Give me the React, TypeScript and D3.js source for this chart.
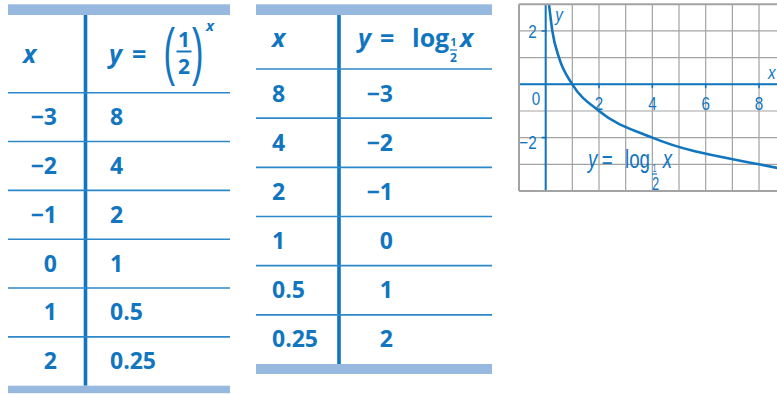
import * as d3 from 'd3';

// table 1: y = (1/2)^x
const expX = [-3, -2, -1, 0, 1, 2];
const expY = [8, 4, 2, 1, 0.5, 0.25];
// table 2: y = log_(1/2) x
const logX = [8, 4, 2, 1, 0.5, 0.25];
const logY = [-3, -2, -1, 0, 1, 2];
// curve points for the graph (table values plus the ends of the drawn curve)
const curveX = [0.125, 0.25, 0.5, 1, 2, 4, 8, 16];
const curveY = [3, 2, 1, 0, -1, -2, -3, -4];
const xTicks = [2, 4, 6, 8];
const yTicks = [2, -2];

const W = 777;
const H = 394;
const blue = '#1176bf';
const lineBlue = '#2d88ca';
const barBlue = '#97b9df';
const gridGray = '#a3a3a3';
const tableFont = '"Open Sans", "Noto Sans", sans-serif';
const graphFont = '"Liberation Sans", Arial, sans-serif';

const fmt = (v: number) => String(v).replace('-', '\u2212');

// condensed look for the graph lettering
const Narrow = ({ x, y, sx = 0.8, children, ...rest }: any) => (
  <text transform={`translate(${x},${y}) scale(${sx},1)`} {...rest}>{children}</text>
);

const Table = ({ left, right, divider, top, headTop, bottom, xs, ys, xAlign, xPos, yAlign, yPos, children }: any) => {
  const rows = d3.scaleLinear().domain([0, xs.length]).range([top, bottom]);
  return (
    <g>
      <rect x={left} y={4.3} width={right - left} height={headTop - 4.3} fill={barBlue} />
      <rect x={divider - 1.8} y={headTop} width={3.6} height={bottom - headTop} fill={blue} />
      {d3.range(xs.length).map((i) => (
        <line key={i} x1={left} x2={right} y1={rows(i)} y2={rows(i)} stroke={lineBlue} strokeWidth={1.6} />
      ))}
      <rect x={left} y={bottom} width={right - left} height={bottom > 380 ? 7.5 : 10} fill={barBlue} />
      {xs.map((v: number, i: number) => {
        const cy = (rows(i) + rows(i + 1)) / 2 + 8;
        return (
          <g key={i} fontFamily={tableFont} fontWeight={700} fontSize={23} fill={blue}>
            <text x={xPos} y={cy} textAnchor={xAlign}>{fmt(v)}</text>
            <text x={yPos} y={cy} textAnchor={yAlign}>{fmt(ys[i])}</text>
          </g>
        );
      })}
      {children}
    </g>
  );
};

const App = () => {
  const x = d3.scaleLinear().domain([-1, 10]).range([519, 519 + 11 * 26.67]);
  const y = d3.scaleLinear().domain([3, -4]).range([4.3, 191]);
  const line = d3
    .line<number>()
    .x((d) => x(d))
    .y((d, i) => y(curveY[i]))
    .curve(d3.curveMonotoneX);

  return (
    <svg width={W} height={H} style={{ position: 'absolute', left: 0, top: 0, background: '#fff' }}>
      <defs>
        <clipPath id="plot">
          <rect x={x(-1)} y={y(3)} width={x(10) - x(-1)} height={y(-4) - y(3)} />
        </clipPath>
      </defs>

      {/* table 1 */}
      <Table left={8} right={230} divider={85.5} top={92.7} headTop={15} bottom={385.7}
        xs={expX} ys={expY} xAlign="end" xPos={57} yAlign="start" yPos={110}>
        <g fontFamily={tableFont} fontWeight={700} fill={blue}>
          <text x={23} y={63} fontSize={25} fontStyle="italic">x</text>
          <text x={109} y={63} fontSize={25} fontStyle="italic">y</text>
          <text x={132} y={63} fontSize={25}>=</text>
          <text transform="translate(163.6,73) scale(1.15,2.1)" fontFamily="Liberation Sans" fontWeight={400} fontSize={30}>(</text>
          <text x={184} y={47} fontSize={21} textAnchor="middle">1</text>
          <line x1={176.5} x2={191.5} y1={51.5} y2={51.5} stroke={blue} strokeWidth={2} />
          <text x={184} y={74} fontSize={21} textAnchor="middle">2</text>
          <text transform="translate(192,73) scale(1.15,2.1)" fontFamily="Liberation Sans" fontWeight={400} fontSize={30}>)</text>
          <text x={206} y={31} fontSize={15} fontStyle="italic">x</text>
        </g>
      </Table>

      {/* table 2 */}
      <Table left={256} right={492} divider={339} top={69} headTop={15} bottom={364}
        xs={logX} ys={logY} xAlign="start" xPos={272} yAlign="end" yPos={393}>
        <g fontFamily={tableFont} fontWeight={700} fill={blue}>
          <text x={272} y={47} fontSize={25} fontStyle="italic">x</text>
          <text x={358} y={47} fontSize={25} fontStyle="italic">y</text>
          <text x={380} y={47} fontSize={25}>=</text>
          <text x={412} y={47} fontSize={25}>log</text>
          <text x={453.5} y={46} fontSize={11} textAnchor="middle">1</text>
          <line x1={450} x2={457} y1={50} y2={50} stroke={blue} strokeWidth={1.2} />
          <text x={453.5} y={62} fontSize={12} textAnchor="middle">2</text>
          <text x={460} y={47} fontSize={25} fontStyle="italic">x</text>
        </g>
      </Table>

      {/* graph */}
      <g clipPath="url(#plot)">
        {d3.range(-1, 11).map((v) => (
          <line key={'gx' + v} x1={x(v)} x2={x(v)} y1={y(3)} y2={y(-4)} stroke={gridGray} strokeWidth={1.2} />
        ))}
        {d3.range(-4, 4).map((v) => (
          <line key={'gy' + v} x1={x(-1)} x2={x(10)} y1={y(v)} y2={y(v)} stroke={gridGray} strokeWidth={1.2} />
        ))}
        <line x1={x(0)} x2={x(0)} y1={y(3)} y2={y(-4)} stroke={blue} strokeWidth={2} />
        <line x1={x(-1)} x2={x(10)} y1={y(0)} y2={y(0)} stroke={blue} strokeWidth={2} />
        {xTicks.map((v) => (
          <line key={'tx' + v} x1={x(v)} x2={x(v)} y1={y(0) - 1} y2={y(0) + 4} stroke={blue} strokeWidth={1.6} />
        ))}
        {yTicks.map((v) => (
          <line key={'ty' + v} x1={x(0) - 4} x2={x(0) + 1} y1={y(v)} y2={y(v)} stroke={blue} strokeWidth={1.6} />
        ))}
        <path d={line(curveX) || ''} fill="none" stroke={blue} strokeWidth={2.6} />
      </g>
      <line x1={x(-1)} x2={x(-1)} y1={y(3)} y2={y(-4)} stroke={gridGray} strokeWidth={2} />
      <line x1={x(-1)} x2={W} y1={y(3)} y2={y(3)} stroke={gridGray} strokeWidth={2} />
      <line x1={x(-1)} x2={W} y1={y(-4)} y2={y(-4)} stroke={gridGray} strokeWidth={2} />

      <g fontFamily={graphFont} fontSize={19} fill={blue}>
        {xTicks.map((v) => (
          <Narrow key={'lx' + v} x={x(v)} y={y(0) + 26} textAnchor="middle">{fmt(v)}</Narrow>
        ))}
        {yTicks.map((v) => (
          <Narrow key={'ly' + v} x={x(0) - 9} y={y(v) + 7 + (v < 0 ? 4 : 0)} textAnchor="end">{fmt(v)}</Narrow>
        ))}
        <Narrow x={x(0) - 5.5} y={y(0) + 21} textAnchor="end">0</Narrow>
        <Narrow x={x(0) + 9.5} y={y(3) + 17} fontStyle="italic">y</Narrow>
        <Narrow x={W - 9} y={y(0) - 5} fontStyle="italic">x</Narrow>
        {/* curve label y = log_(1/2) x */}
        <g transform="translate(588,167.7) scale(0.72,1)">
          <text x={0} y={0} fontSize={26} fontStyle="italic">y</text>
          <text x={19} y={0} fontSize={26}>=</text>
          <text x={51.4} y={0} fontSize={26}>log</text>
          <text x={92.4} y={4.3} fontSize={10} textAnchor="middle">1</text>
          <line x1={88.9} x2={95.8} y1={6.3} y2={6.3} stroke={blue} strokeWidth={1.2} />
          <text x={93.8} y={22.3} fontSize={18} textAnchor="middle">2</text>
          <text x={103.7} y={0} fontSize={26} fontStyle="italic">x</text>
        </g>
      </g>
    </svg>
  );
};

export default App;
